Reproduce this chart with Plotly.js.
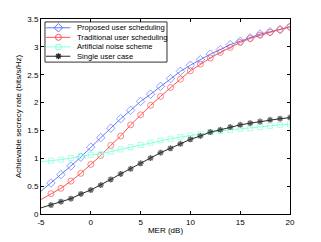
<!DOCTYPE html>
<html>
<head>
<meta charset="utf-8">
<script src="https://cdn.plot.ly/plotly-3.0.1.min.js"></script>
<style>html,body{margin:0;padding:0;background:#fff;}#chart{width:321px;height:242px;}</style>
</head>
<body>
<div id="chart"></div>
<script>
const mer = [-5,-4,-3,-2,-1,0,1,2,3,4,5,6,7,8,9,10,11,12,13,14,15,16,17,18,19,20];
const proposed = [0.41,0.556,0.706,0.862,1.02,1.20,1.37,1.54,1.71,1.86,2.02,2.15,2.29,2.43,2.56,2.67,2.77,2.87,2.95,3.04,3.10,3.16,3.23,3.27,3.31,3.36];
const traditional = [0.26,0.365,0.46,0.59,0.73,0.89,1.05,1.23,1.40,1.60,1.78,1.95,2.11,2.27,2.42,2.57,2.69,2.80,2.90,2.99,3.08,3.15,3.21,3.26,3.31,3.36];
const artificialNoise = [0.94,0.957,0.975,1.005,1.04,1.06,1.08,1.12,1.16,1.20,1.24,1.28,1.32,1.35,1.38,1.41,1.43,1.47,1.49,1.51,1.53,1.54,1.56,1.58,1.60,1.61];
const singleUser = [0.11,0.16,0.22,0.275,0.36,0.43,0.52,0.62,0.72,0.81,0.91,1.005,1.10,1.18,1.26,1.34,1.40,1.47,1.51,1.56,1.60,1.63,1.66,1.69,1.71,1.73];
const seriesNames = ["Proposed user scheduling","Traditional user scheduling","Artificial noise scheme","Single user case"];
const xTicks = [-5,0,5,10,15,20];
const yTicks = [0,0.5,1,1.5,2,2.5,3,3.5];

const FONT = 'Liberation Sans, Arial, sans-serif';
const styles = [
  {color:'#5f78ff', symbol:'diamond-open', size:6.5, lw:1},
  {color:'#ff5252', symbol:'circle-open', size:6, lw:1},
  {color:'#8affe0', symbol:'square-open', size:5, lw:1},
  {color:'#2a2a2a', symbol:'asterisk-open', size:5, lw:1.4}
];
const series = [proposed, traditional, artificialNoise, singleUser];

function sizes(s){ return mer.map((v,i)=> i===0 ? 0 : s); }
const data = [];
series.forEach((y,k)=>{
  const st = styles[k];
  data.push({x: mer, y: y, name: seriesNames[k], type:'scatter', mode:'lines+markers', showlegend:false,
    line:{color:st.color, width:1},
    marker:{symbol:st.symbol, size:sizes(st.size), color:st.color, line:{color:st.color, width:st.lw}}});
});

// custom compact legend (MATLAB style), drawn on an overlay axis in plot-fraction units
const legRows = [0.955, 0.906, 0.857, 0.809];
const legLineX = [0.02, 0.118];
const legMarkX = 0.07;
const annotations = [];
series.forEach((y,k)=>{
  const st = styles[k];
  data.push({x: legLineX, y:[legRows[k], legRows[k]], xaxis:'x2', yaxis:'y2', mode:'lines', showlegend:false,
    hoverinfo:'skip', line:{color:st.color, width:1}});
  data.push({x:[legMarkX], y:[legRows[k]], xaxis:'x2', yaxis:'y2', mode:'markers', showlegend:false,
    hoverinfo:'skip', marker:{symbol:st.symbol, size:st.size, color:st.color, line:{color:st.color, width:st.lw}}});
  annotations.push({xref:'paper', yref:'paper', x:0.136, y:legRows[k], xanchor:'left', yanchor:'middle',
    text:seriesNames[k], showarrow:false, font:{family:FONT, size:7.6, color:'#000'}});
});

const axisCommon = {showgrid:false, zeroline:false, showline:true, linecolor:'#000', linewidth:1,
  mirror:'ticks', ticks:'inside', ticklen:3, tickcolor:'#000', tickwidth:1,
  tickfont:{family:FONT, size:8, color:'#000'}};
const layout = {
  width:321, height:242, margin:{l:41, r:31, t:19, b:28},
  paper_bgcolor:'#fff', plot_bgcolor:'#fff', showlegend:false,
  font:{family:FONT, size:8, color:'#000'},
  xaxis: Object.assign({}, axisCommon, {range:[-5,20], tickvals:xTicks, ticktext:xTicks.map(String),
    title:{text:'MER (dB)', font:{size:8}, standoff:1}}),
  yaxis: Object.assign({}, axisCommon, {range:[0,3.5], tickvals:yTicks, ticktext:yTicks.map(String),
    title:{text:'Achievable secrecy rate (bits/s/Hz)', font:{size:8}, standoff:4}}),
  xaxis2:{overlaying:'x', range:[0,1], visible:false, fixedrange:true},
  yaxis2:{overlaying:'y', range:[0,1], visible:false, fixedrange:true},
  shapes:[{type:'rect', xref:'paper', yref:'paper', x0:0.016, x1:0.506, y0:0.779, y1:0.985,
    line:{color:'#333', width:1}, fillcolor:'#fff', layer:'below'}],
  annotations: annotations
};
Plotly.newPlot('chart', data, layout, {displayModeBar:false, staticPlot:true});
</script>
</body>
</html>
